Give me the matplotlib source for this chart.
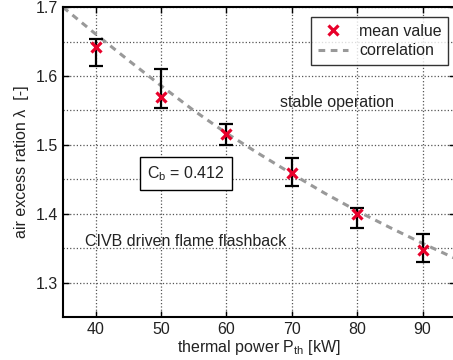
import numpy as np
import matplotlib
matplotlib.use('Agg')
from matplotlib import pyplot as plt
from matplotlib.ticker import MultipleLocator

plt.rcParams['font.family'] = ['Liberation Sans', 'DejaVu Sans']
plt.rcParams['mathtext.fontset'] = 'custom'
plt.rcParams['mathtext.rm'] = 'Liberation Sans'
plt.rcParams['mathtext.it'] = 'Liberation Sans'

# measured points
power = [40, 50, 60, 70, 80, 90]
lam_mean = [1.642, 1.570, 1.516, 1.459, 1.400, 1.348]
lam_top = [1.654, 1.610, 1.530, 1.481, 1.409, 1.371]
lam_bot = [1.615, 1.554, 1.500, 1.441, 1.380, 1.330]

corr_p = [35, 40, 45, 50, 55, 60, 65, 70, 75, 80, 85, 90, 95]
corr_lam = [1.700, 1.661, 1.623, 1.586, 1.550, 1.517, 1.487, 1.458, 1.430, 1.404, 1.380, 1.357, 1.335]

lam_mean = np.array(lam_mean)
err = [lam_mean - np.array(lam_bot), np.array(lam_top) - lam_mean]

fs = 11.5
txt = '#222222'

fig = plt.figure(figsize=(4.53, 3.6), dpi=100)
ax = fig.add_axes([0.139, 0.1194, 0.866, 0.8606])

ax.plot(corr_p, corr_lam, '--', color='#999999', lw=2.2, dashes=(2.2, 1.8), label='correlation', zorder=2)
ax.errorbar(power, lam_mean, yerr=err, fmt='none', ecolor='black', elinewidth=1.6, capsize=5, capthick=1.6, zorder=3)
ax.plot(power, lam_mean, 'x', color='#e8002a', ms=6.5, mew=2.3, label='mean value', zorder=4)

ax.set_xlim(35, 95)
ax.set_ylim(1.25, 1.7)
ax.yaxis.set_major_locator(MultipleLocator(0.1))
ax.yaxis.set_minor_locator(MultipleLocator(0.05))
ax.set_xticks([40, 50, 60, 70, 80, 90])
ax.tick_params(which='both', direction='in', top=True, right=True, labelsize=fs, length=4, width=1,
               labelcolor=txt)
ax.tick_params(which='minor', length=0)
ax.grid(True, which='major', linestyle=':', color='#555555', lw=0.9)
ax.grid(True, which='minor', axis='y', linestyle=':', color='#555555', lw=0.9)
for s in ax.spines.values():
    s.set_linewidth(1.5)

ax.set_xlabel('thermal power P$_{\\rm th}$ [kW]', fontsize=fs, labelpad=1, color=txt)
ax.set_ylabel('air excess ration λ  [-]', fontsize=fs, labelpad=5, color=txt)

ax.text(76.9, 1.561, 'stable operation', ha='center', va='center', fontsize=fs, color=txt)
ax.text(38.3, 1.360, 'CIVB driven flame flashback', ha='left', va='center', fontsize=fs, color=txt)
ax.text(53.8, 1.458, 'C$_{\\rm b}$ = 0.412', ha='center', va='center', fontsize=fs, color=txt,
        bbox=dict(boxstyle='square,pad=0.45', fc='white', ec='black', lw=1))

h, l = ax.get_legend_handles_labels()
leg = ax.legend(h[::-1], l[::-1], loc='upper right', bbox_to_anchor=(0.982, 0.968), fontsize=fs,
                frameon=True, fancybox=False, edgecolor='black', handlelength=1.9, borderpad=0.4,
                labelspacing=0.3, handletextpad=0.7, borderaxespad=0.0)
leg.get_frame().set_linewidth(1)
for t in leg.get_texts():
    t.set_color(txt)

fig.savefig('out.png', dpi=100)
